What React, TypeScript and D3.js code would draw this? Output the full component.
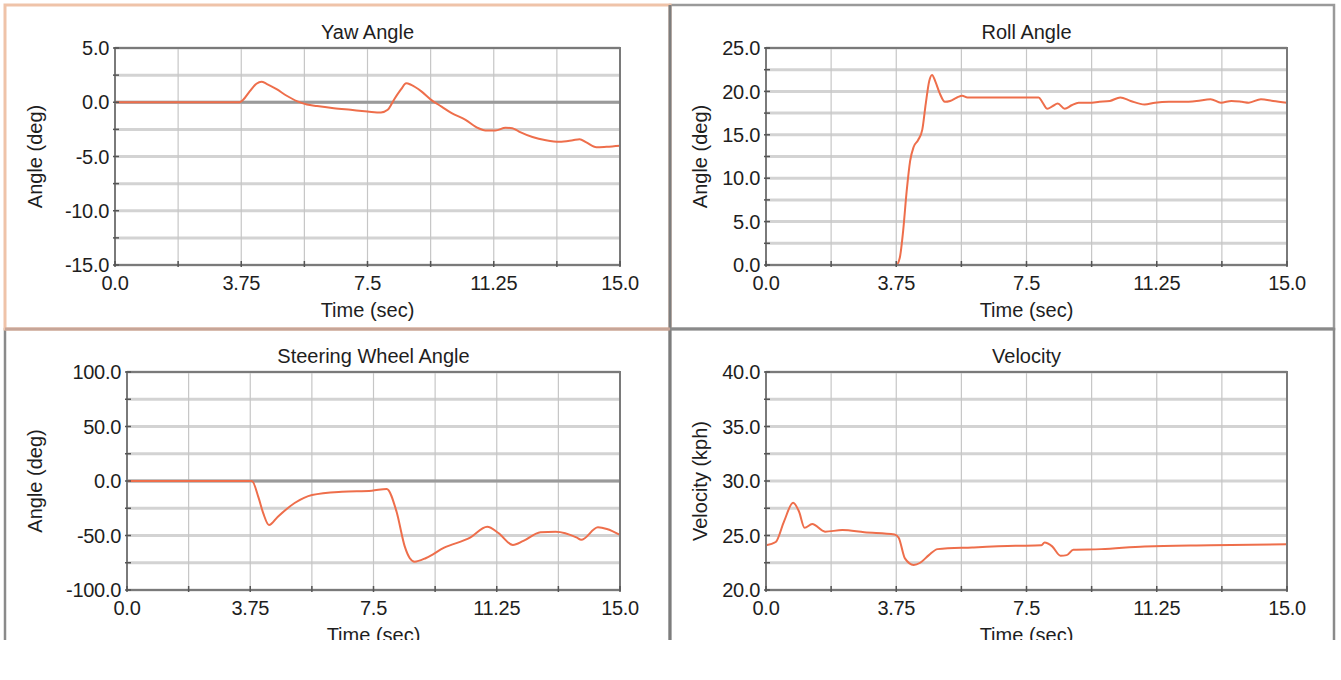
import * as d3 from 'd3';

// time (sec), value
const yawData: [number, number][] = [
  [0, 0], [3.7, 0], [3.8, 0.2], [4.0, 1.0], [4.2, 1.7], [4.35, 1.9], [4.5, 1.7], [4.8, 1.2],
  [5.1, 0.6], [5.4, 0.1], [5.7, -0.2], [6.0, -0.35], [6.5, -0.55], [7.0, -0.7], [7.5, -0.85],
  [7.9, -0.95], [8.1, -0.7], [8.3, 0.3], [8.5, 1.2], [8.65, 1.75], [8.8, 1.6], [9.1, 1.0],
  [9.4, 0.2], [9.7, -0.4], [10.0, -1.0], [10.4, -1.6], [10.8, -2.4], [11.0, -2.6], [11.3, -2.6],
  [11.6, -2.35], [11.8, -2.4], [12.0, -2.7], [12.4, -3.2], [12.8, -3.5], [13.2, -3.65],
  [13.6, -3.5], [13.8, -3.4], [14.0, -3.7], [14.3, -4.15], [14.6, -4.1], [15.0, -4.0],
];

const rollData: [number, number][] = [
  [0, 0], [3.75, 0], [3.85, 0.8], [3.95, 4], [4.05, 8.5], [4.15, 12], [4.25, 13.6], [4.38, 14.4],
  [4.5, 15.6], [4.6, 18.6], [4.7, 21.2], [4.78, 21.9], [4.88, 21.1], [5.0, 19.8], [5.15, 18.8],
  [5.3, 18.9], [5.5, 19.3], [5.65, 19.5], [5.8, 19.3], [7.0, 19.3], [7.85, 19.3], [7.95, 18.8],
  [8.1, 18.0], [8.25, 18.3], [8.4, 18.6], [8.6, 18.0], [8.8, 18.4], [9.0, 18.7], [9.3, 18.7],
  [9.6, 18.8], [9.9, 18.9], [10.2, 19.3], [10.5, 18.9], [10.9, 18.5], [11.2, 18.7], [11.6, 18.8],
  [12.0, 18.8], [12.4, 18.9], [12.8, 19.1], [13.1, 18.7], [13.4, 18.9], [13.7, 18.8], [13.9, 18.7],
  [14.25, 19.1], [14.6, 18.9], [15.0, 18.7],
];

const steerData: [number, number][] = [
  [0, 0], [3.8, 0], [4.0, -15], [4.15, -30], [4.32, -40.4], [4.59, -32.7], [5.1, -20.2],
  [5.63, -12.8], [6.54, -9.8], [7.45, -8.9], [7.9, -7.3], [8.2, -28], [8.45, -60], [8.6, -70.6],
  [8.75, -74], [9.1, -70.6], [9.65, -61.2], [10.44, -52], [10.96, -42], [11.3, -47.7],
  [11.74, -58.7], [12.06, -55], [12.58, -47], [13.04, -46.5], [13.69, -52], [13.82, -54],
  [14.33, -42.5], [14.6, -44], [15.0, -49.5],
];

const velData: [number, number][] = [
  [0, 24.1], [0.28, 24.4], [0.52, 26.3], [0.78, 28.0], [0.95, 27.2], [1.11, 25.7], [1.33, 26.05],
  [1.7, 25.35], [2.2, 25.5], [2.83, 25.3], [3.7, 25.1], [3.82, 24.8], [4.0, 22.9], [4.25, 22.3],
  [4.44, 22.5], [4.69, 23.2], [4.94, 23.75], [5.94, 23.9], [7.18, 24.05], [7.93, 24.1],
  [8.02, 24.35], [8.24, 24.0], [8.48, 23.15], [8.66, 23.2], [8.85, 23.7], [9.65, 23.75],
  [10.9, 24.0], [12.8, 24.1], [15.0, 24.2],
];

const xTicks = [0, 3.75, 7.5, 11.25, 15];
const xTickLabels = ['0.0', '3.75', '7.5', '11.25', '15.0'];

const FONT = '"Liberation Sans", Arial, sans-serif';
const LINE = '#ee6e4b';

type PanelProps = {
  title: string;
  yLabel: string;
  box: { x: number; y: number };
  plot: { l: number; r: number; t: number; b: number };
  yDomain: [number, number];
  yStep: number;
  data: [number, number][];
};

function Panel({ title, yLabel, box, plot, yDomain, yStep, data }: PanelProps) {
  const x = d3.scaleLinear().domain([0, 15]).range([plot.l, plot.r]);
  const y = d3.scaleLinear().domain(yDomain).range([plot.b, plot.t]);
  const yMajor = d3.range(yDomain[0], yDomain[1] + 1e-6, yStep);
  const yMinor = d3.range(yDomain[0], yDomain[1] + 1e-6, yStep / 2);
  const xMinor = d3.range(0, 15 + 1e-6, 1.875);
  const line = d3.line<[number, number]>()
    .x(d => x(d[0]))
    .y(d => y(d[1]))
    .curve(d3.curveMonotoneX);
  const hasZero = yDomain[0] < 0 && yDomain[1] > 0;
  const midY = (plot.t + plot.b) / 2;

  return (
    <g fontFamily={FONT} fill="#1e1e1e">
      {/* horizontal grid */}
      {yMinor.map(v => (
        <line key={'h' + v} x1={plot.l} x2={plot.r} y1={y(v)} y2={y(v)} stroke="#d3d3d3" strokeWidth={3} />
      ))}
      {/* vertical grid */}
      {xMinor.map(v => (
        <line key={'v' + v} x1={x(v)} x2={x(v)} y1={plot.t} y2={plot.b} stroke="#c6c6c6" strokeWidth={1.2} />
      ))}
      {hasZero && (
        <line x1={plot.l} x2={plot.r} y1={y(0)} y2={y(0)} stroke="#9a9a9a" strokeWidth={3} />
      )}
      <path d={line(data) || ''} fill="none" stroke={LINE} strokeWidth={2} />
      <rect x={plot.l} y={plot.t} width={plot.r - plot.l} height={plot.b - plot.t}
        fill="none" stroke="#7a7a7a" strokeWidth={2} />
      {/* ticks */}
      {yMinor.map(v => (
        <line key={'yt' + v} x1={plot.l - 2} x2={plot.l + 4} y1={y(v)} y2={y(v)} stroke="#555" strokeWidth={1.5} />
      ))}
      {xMinor.map(v => (
        <line key={'xt' + v} x1={x(v)} x2={x(v)} y1={plot.b - 4} y2={plot.b + 2} stroke="#555" strokeWidth={1.5} />
      ))}
      {/* labels */}
      {yMajor.map(v => (
        <text key={'yl' + v} x={plot.l - 6} y={y(v)} dy="0.36em" textAnchor="end" fontSize={20} letterSpacing={-0.3}>
          {v.toFixed(1)}
        </text>
      ))}
      {xTicks.map((v, i) => (
        <text key={'xl' + v} x={x(v)} y={plot.b + 18} dy="0.36em" textAnchor="middle" fontSize={20} letterSpacing={-0.3}>
          {xTickLabels[i]}
        </text>
      ))}
      <text x={(plot.l + plot.r) / 2} y={plot.t - 16} dy="0.36em" textAnchor="middle" fontSize={20}>
        {title}
      </text>
      <text x={(plot.l + plot.r) / 2} y={plot.b + 45} dy="0.36em" textAnchor="middle" fontSize={20}>
        Time (sec)
      </text>
      <text transform={`translate(${box.x + 30},${midY}) rotate(-90)`} dy="0.36em" textAnchor="middle" fontSize={20}>
        {yLabel}
      </text>
    </g>
  );
}

export default function App() {
  return (
    <div style={{ position: 'absolute', left: 0, top: 0 }}>
      <svg width={1341} height={680} style={{ display: 'block', background: '#fff' }}>
        <defs>
          <clipPath id="cut">
            <rect x={0} y={0} width={1341} height={640} />
          </clipPath>
        </defs>
        <g clipPath="url(#cut)">
          {/* panel frames */}
          <rect x={670} y={5} width={664} height={324} fill="#fff" stroke="#9a9a9a" strokeWidth={2.5} />
          <rect x={5} y={329} width={665} height={330} fill="#fff" stroke="#8a8a8a" strokeWidth={2.5} />
          <rect x={670} y={329} width={664} height={330} fill="#fff" stroke="#8a8a8a" strokeWidth={2.5} />
          <rect x={5} y={5} width={665} height={324} fill="#fff" stroke="#efc3a9" strokeWidth={3} />
          <line x1={670} x2={670} y1={5} y2={660} stroke="#7d7d7d" strokeWidth={3} />
          <line x1={670} x2={1334} y1={329} y2={329} stroke="#8a8a8a" strokeWidth={3} />
          <line x1={5} x2={670} y1={329} y2={329} stroke="#c7a598" strokeWidth={3} />

          <Panel title="Yaw Angle" yLabel="Angle (deg)" box={{ x: 5, y: 5 }}
            plot={{ l: 115, r: 620, t: 48, b: 265 }} yDomain={[-15, 5]} yStep={5} data={yawData} />
          <Panel title="Roll Angle" yLabel="Angle (deg)" box={{ x: 670, y: 5 }}
            plot={{ l: 766, r: 1287, t: 48, b: 265 }} yDomain={[0, 25]} yStep={5} data={rollData} />
          <Panel title="Steering Wheel Angle" yLabel="Angle (deg)" box={{ x: 5, y: 329 }}
            plot={{ l: 127, r: 620, t: 372, b: 590 }} yDomain={[-100, 100]} yStep={50} data={steerData} />
          <Panel title="Velocity" yLabel="Velocity (kph)" box={{ x: 670, y: 329 }}
            plot={{ l: 766, r: 1287, t: 372, b: 590 }} yDomain={[20, 40]} yStep={5} data={velData} />
        </g>
      </svg>
    </div>
  );
}
